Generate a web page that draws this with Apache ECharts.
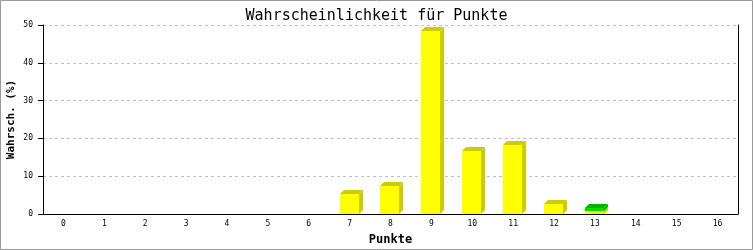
<!DOCTYPE html>
<html>
<head>
<meta charset="utf-8">
<script src="https://cdn.jsdelivr.net/npm/echarts@6/dist/echarts.min.js"></script>
<style>html,body{margin:0;padding:0;background:#fff}#c{width:753px;height:250px}</style>
</head>
<body>
<div id="c"></div>
<script>
var categories = ['0','1','2','3','4','5','6','7','8','9','10','11','12','13','14','15','16'];
var yellowValues = [0,0,0,0,0,0,0,5.3,7.4,48.4,16.7,18.3,2.6,0.9,0,0,0];
var greenValues  = [0,0,0,0,0,0,0,0,0,0,0,0,0,0.6,0,0,0];
var yTicks = [0,10,20,30,40,50];

var segData = [];
for (var i = 0; i < categories.length; i++) {
  var y = yellowValues[i], g = greenValues[i];
  if (y > 0) segData.push([i, 0, y, 0, g > 0 ? 0 : 1]);
  if (g > 0) segData.push([i, y, y + g, 1, 1]);
}

var palette = [
  {front: '#ffff00', dark: '#cccc00'},
  {front: '#00dd00', dark: '#00b400'}
];

var chart = echarts.init(document.getElementById('c'), null, {renderer: 'canvas'});
var mono = 'DejaVu Sans Mono';
chart.setOption({
  animation: false,
  title: {
    text: 'Wahrscheinlichkeit für Punkte',
    left: 'center', top: 4,
    textStyle: {fontFamily: mono, fontSize: 15, fontWeight: 'normal', color: '#000'}
  },
  graphic: [{
    type: 'rect', shape: {x: 0.5, y: 0.5, width: 752, height: 249},
    style: {fill: 'none', stroke: '#999', lineWidth: 1}, silent: true, z: 100
  }],
  grid: {left: 43, right: 15, top: 25, bottom: 36, containLabel: false, outerBoundsMode: 'none'},
  xAxis: {
    type: 'category', data: categories, boundaryGap: true,
    name: 'Punkte', nameLocation: 'middle', nameGap: 20, nameMoveOverlap: false,
    nameTextStyle: {fontFamily: mono, fontSize: 12, fontWeight: 'bold', color: '#000'},
    axisLine: {lineStyle: {color: '#000', width: 1}},
    axisTick: {show: false},
    axisLabel: {fontFamily: mono, fontSize: 8, color: '#000', margin: 6}
  },
  yAxis: [{
    type: 'value', min: 0, max: 50, interval: 10,
    name: 'Wahrsch. (%)', nameLocation: 'middle', nameGap: 26, nameMoveOverlap: false,
    nameTextStyle: {fontFamily: mono, fontSize: 11, fontWeight: 'bold', color: '#000'},
    axisLine: {show: true, lineStyle: {color: '#000'}},
    axisTick: {show: true, length: 5, lineStyle: {color: '#000'}},
    axisLabel: {fontFamily: mono, fontSize: 8, color: '#000', margin: 10,
      formatter: function (v) { return yTicks.indexOf(v) >= 0 ? String(v) : ''; }},
    splitLine: {show: true, lineStyle: {color: '#c0c0c0', type: [3, 3]}}
  }, {
    type: 'value', min: 0, max: 50, interval: 10, position: 'right',
    axisLine: {show: true, lineStyle: {color: '#000'}},
    axisTick: {show: false}, axisLabel: {show: false}, splitLine: {show: false}
  }],
  series: [{
    type: 'custom',
    data: segData,
    encode: {x: 0, y: [1, 2]},
    renderItem: function (params, api) {
      var idx = api.value(0);
      var base = api.coord([idx, api.value(1)]);
      var top = api.coord([idx, api.value(2)]);
      var col = palette[api.value(3)];
      var isTop = api.value(4) === 1;
      var cx = Math.round(base[0]);
      var x0 = cx - 10, x1 = cx + 9, d = 4;
      var yb = Math.round(base[1]), yt = Math.round(top[1]);
      var children = [
        {type: 'polygon', shape: {points: [[x1, yt], [x1 + d, yt - d], [x1 + d, yb - d], [x1, yb]]},
          style: {fill: col.dark}},
        {type: 'rect', shape: {x: x0, y: yt, width: x1 - x0, height: yb - yt},
          style: {fill: col.front}}
      ];
      if (isTop) {
        children.push({type: 'polygon', shape: {points: [[x0, yt], [x0 + d, yt - d], [x1 + d, yt - d], [x1, yt]]},
          style: {fill: col.dark}});
      }
      return {type: 'group', children: children};
    }
  }]
});
</script>
</body>
</html>
